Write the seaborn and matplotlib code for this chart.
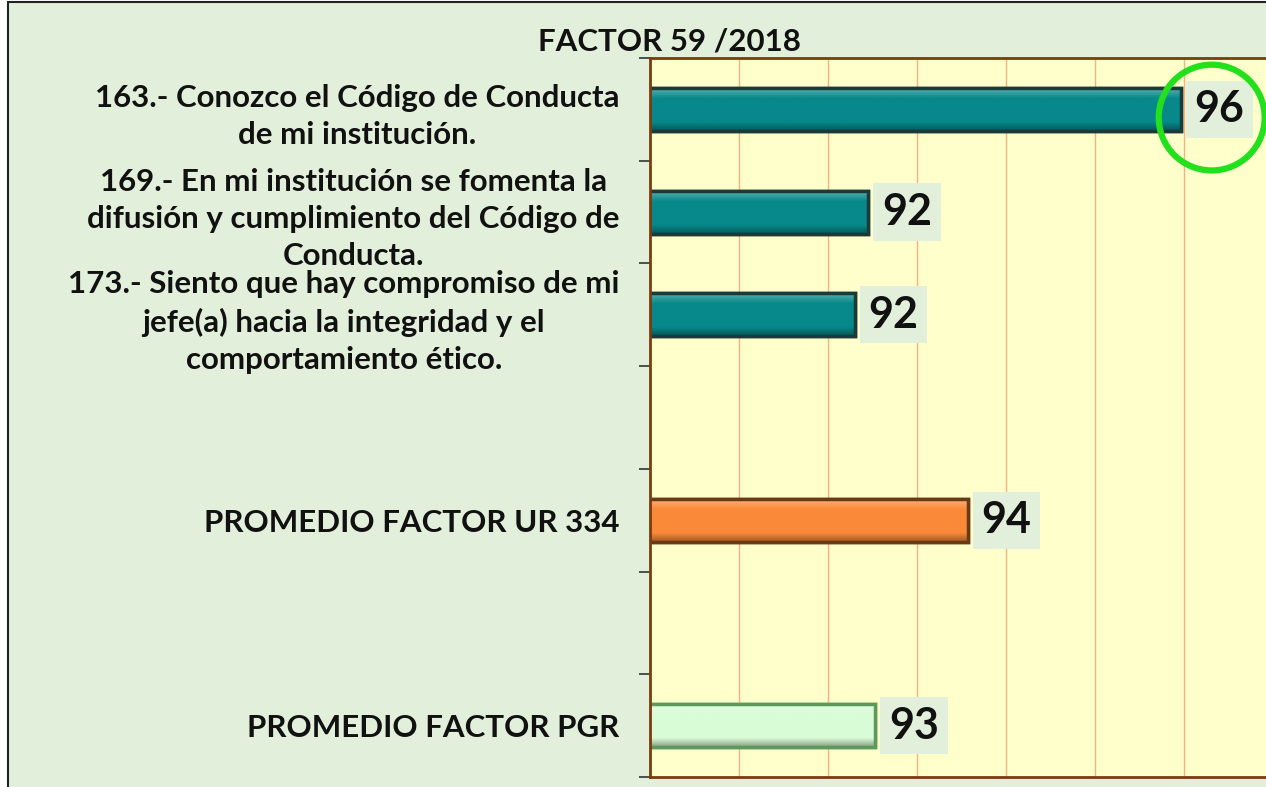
import matplotlib
matplotlib.use("Agg")
import matplotlib.pyplot as plt
from matplotlib.patches import Ellipse, Rectangle
from matplotlib.colors import to_rgb
import seaborn as sns
import pandas as pd
import numpy as np

# ---- data ----
categories = [
    "163.- Conozco el Código de Conducta\nde mi institución.",
    "169.- En mi institución se fomenta la\ndifusión y cumplimiento del Código de\nConducta.",
    "173.- Siento que hay compromiso de mi\njefe(a) hacia la integridad y el\ncomportamiento ético.",
    "PROMEDIO FACTOR UR 334",
    "PROMEDIO FACTOR PGR",
]
values = [95.96, 92.45, 92.30, 93.57, 92.53]
value_labels = ["96", "92", "92", "94", "93"]
bar_colors = ["#07898a", "#07898a", "#07898a", "#fa8a38", "#d8fcd6"]
edge_colors = ["#1d3a3a", "#1d3a3a", "#1d3a3a", "#6a3a16", "#5c9a5c"]
# slots on the category axis (blank slots are empty rows)
order = [categories[0], categories[1], categories[2], " ", categories[3], "  ", categories[4]]
title = "FACTOR 59 /2018"

df = pd.DataFrame({"pregunta": categories, "valor": values})

FONT = ["Lato", "DejaVu Sans"]
sns.set_theme(style="white")
plt.rcParams["font.family"] = FONT

fig = plt.figure(figsize=(12.66, 7.87), dpi=100)
fig.patch.set_facecolor("white")
# green panel with dark border
fig.patches.append(Rectangle((8 / 1266, -0.05), 1.1, 1.05 - 2 / 787, transform=fig.transFigure,
                             facecolor="#e2efda", edgecolor="#222222", linewidth=1.5, zorder=-10))

ax = fig.add_axes([650 / 1266, 10 / 787, 616 / 1266, (777 - 58) / 787])
ax.set_facecolor("#ffffcc")

pal = dict(zip(categories, bar_colors))
sns.barplot(data=df, x="valor", y="pregunta", order=order, hue="pregunta",
            palette=pal, legend=False, width=0.42, saturation=1, ax=ax, zorder=3)

XLIM = (90, 96.92)
YLIM = (6.5, -0.5)

# edges and bevel shading per bar
for patch in list(ax.patches):
    y = patch.get_y() + patch.get_height() / 2
    idx = int(round(y))
    name = order[idx]
    if name not in categories:
        continue
    k = categories.index(name)
    patch.set_edgecolor(edge_colors[k])
    patch.set_linewidth(2.5)
    base = np.array(to_rgb(bar_colors[k]))
    n = 40
    t = np.linspace(0, 1, n)
    grad = np.zeros((n, 1, 3))
    for j, tt in enumerate(t):
        if tt < 0.25:
            a = 0.35 * (1 - tt / 0.25)
            c = base + (1 - base) * a
        elif tt > 0.8:
            a = 0.35 * (tt - 0.8) / 0.2
            c = base * (1 - a)
        else:
            c = base
        grad[j, 0] = c
    x0, y0 = patch.get_x(), patch.get_y()
    w, h = patch.get_width(), patch.get_height()
    xs = max(x0, XLIM[0])
    xe = x0 + w
    ax.imshow(grad, extent=[xs, xe, y0 + h, y0], origin="upper",
              aspect="auto", zorder=3.5, interpolation="bilinear")
    # outline on top
    ax.add_patch(Rectangle((xs - 0.2, y0), xe - xs + 0.2, h, fill=False, edgecolor=edge_colors[k],
                           linewidth=2.5, zorder=4))

ax.set_xlim(*XLIM)
ax.set_ylim(*YLIM)
ax.set_aspect("auto")
ax.set_xticks(np.arange(91, 97, 1))
ax.set_xticklabels([])
ax.tick_params(axis="x", length=0)
ax.xaxis.grid(True, color="#f4b183", linewidth=1.0, zorder=0)
ax.set_axisbelow(True)
ax.set_xlabel("")
ax.set_ylabel("")

# y tick labels at centers, tick marks at boundaries
ax.set_yticks(range(len(order)))
ax.set_yticklabels([o.strip() for o in order], fontsize=22.5, fontweight="bold", color="#111111")
for tl in ax.get_yticklabels():
    tl.set_multialignment("center")
    tl.set_linespacing(1.4)
ax.tick_params(axis="y", which="major", length=0, pad=22)
ax.set_yticks(np.arange(-0.5, 7.0, 1.0), minor=True)
ax.tick_params(axis="y", which="minor", length=8, width=1.2, color="#333333", direction="out", left=True)

for side in ["top", "left", "bottom"]:
    ax.spines[side].set_visible(True)
    ax.spines[side].set_color("#7a3c0c")
    ax.spines[side].set_linewidth(2)
    ax.spines[side].set_zorder(6)
ax.spines["right"].set_visible(False)

# value labels
for name, v, lab in zip(categories, values, value_labels):
    i = order.index(name)
    ax.annotate(lab, xy=(v, i), xytext=(10, 0), textcoords="offset points",
                ha="left", va="center", fontsize=31, fontweight="bold", color="#111111",
                bbox=dict(boxstyle="square,pad=0.2", facecolor="#e2efda", edgecolor="none"),
                zorder=5, annotation_clip=False)

# highlight circle around the top value
ax.add_patch(Ellipse((96.31, 0.08), width=1.19, height=1.03, transform=ax.transData,
                     fill=False, edgecolor="#22e01c", linewidth=4.5, clip_on=False, zorder=6))

fig.text(669 / 1266, 1 - 41 / 787, title, ha="center", va="center",
         fontsize=22.5, fontweight="bold", color="#111111")

fig.savefig("out.png", dpi=100, facecolor=fig.get_facecolor())
